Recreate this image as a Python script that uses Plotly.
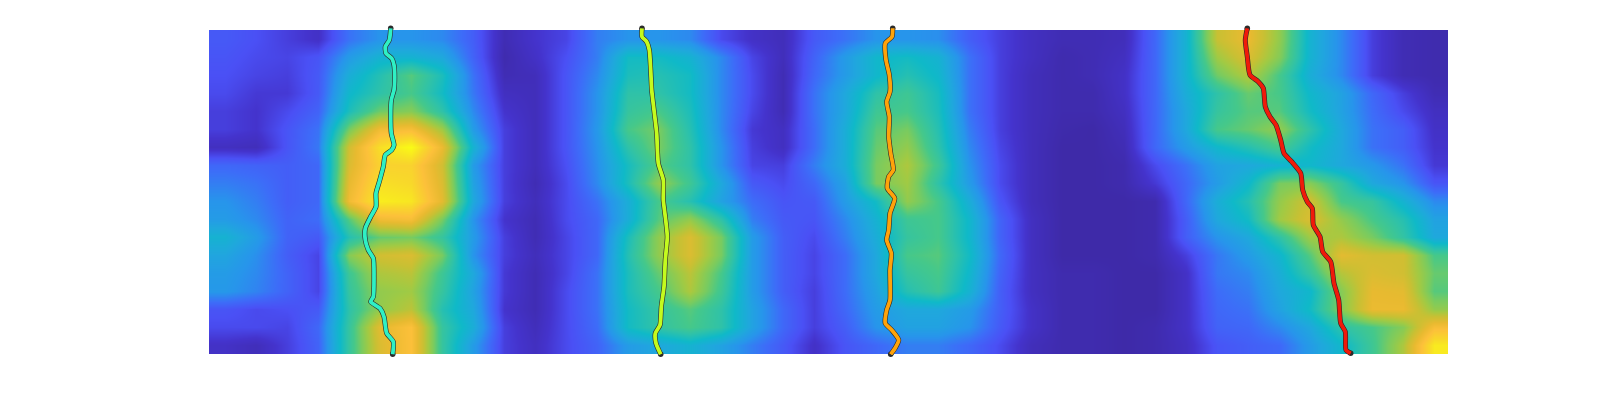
import plotly.graph_objects as go

# Heat values on a 0-10 scale, one list per row (top to bottom), four panels of ten columns
a = [
[1.3,1.1,0.8,0.5,1.8,2.4,2.4,2.2,1.4,0.2],
[1.2,1.0,0.9,1.2,2.6,3.4,3.4,3.0,1.5,0.1],
[1.1,0.9,0.8,1.3,3.2,4.2,5.2,4.0,1.8,0.2],
[1.0,0.7,0.7,1.3,3.6,4.4,5.0,3.8,1.9,0.4],
[0.8,0.6,1.0,1.5,4.0,5.5,5.8,4.4,2.2,0.6],
[0.8,0.6,1.2,1.8,5.6,7.8,8.0,6.2,2.6,0.8],
[0.4,0.3,1.2,1.9,7.0,9.2,10.0,7.6,3.4,0.8],
[1.6,1.5,1.4,1.6,7.2,8.8,8.8,7.0,2.6,0.8],
[2.0,1.8,1.4,1.6,7.5,9.2,9.0,7.2,2.8,0.8],
[2.4,2.0,1.4,1.6,7.8,9.6,9.4,7.4,3.0,0.8],
[2.6,2.2,1.5,1.7,5.2,7.8,8.0,5.6,2.4,0.6],
[3.4,2.6,1.5,1.3,4.2,5.4,5.6,4.6,2.6,0.8],
[2.9,2.3,1.4,0.9,5.8,7.0,7.2,5.6,2.4,0.8],
[2.6,2.2,1.5,0.9,4.8,6.4,6.6,4.8,3.0,0.7],
[2.5,2.1,1.5,0.9,4.6,6.0,6.2,4.6,2.8,0.7],
[1.2,1.0,1.1,1.3,4.4,6.0,6.6,4.2,3.0,0.6],
[1.0,1.0,0.9,1.6,4.6,7.4,8.2,4.6,3.2,0.8],
[0.5,0.3,0.8,1.5,4.6,7.2,8.2,4.6,2.6,0.8],
]
b = [
[0.6,0.9,2.0,2.4,2.4,2.2,1.0,0.5,0.3,1.3],
[0.5,1.1,2.0,3.8,3.8,3.4,2.2,0.9,0.3,1.5],
[0.3,1.2,2.2,4.0,4.2,3.8,2.2,1.0,0.2,1.6],
[0.3,1.2,2.4,4.4,4.4,3.8,2.2,1.0,0.2,1.8],
[0.3,1.2,2.4,4.6,5.0,4.0,2.2,0.9,0.2,1.8],
[0.3,1.2,2.5,5.0,5.6,4.2,2.2,0.7,0.4,1.7],
[0.3,1.2,2.4,4.4,5.6,4.4,2.4,0.8,0.4,1.7],
[0.3,1.1,2.3,3.9,5.2,4.4,2.4,0.9,0.8,2.0],
[0.2,1.0,2.2,4.0,6.0,4.8,3.0,1.3,1.0,1.6],
[0.3,1.0,1.8,3.2,5.0,4.2,2.8,1.7,1.2,1.3],
[0.2,1.0,1.6,3.2,5.2,6.0,4.4,2.0,1.3,1.2],
[0.2,0.9,1.6,4.0,6.0,7.2,5.6,2.6,1.4,1.0],
[0.3,0.9,1.6,4.2,6.0,7.2,5.6,2.6,1.4,0.9],
[0.2,0.9,1.8,4.0,5.4,6.6,5.0,2.6,1.4,0.9],
[0.2,1.0,1.8,4.0,5.0,6.4,4.8,2.6,1.4,0.8],
[0.2,1.0,1.8,3.8,4.6,5.2,4.4,2.8,1.6,0.8],
[0.3,1.0,1.7,3.8,4.5,5.0,4.4,2.8,1.6,0.8],
[0.4,1.0,1.5,2.6,3.0,3.4,2.8,2.0,1.3,0.5],
]
c = [
[1.8,2.4,2.4,2.3,1.4,0.8,0.4,0.2,0.2,0.3],
[2.6,3.6,3.8,3.4,1.8,0.8,0.4,0.1,0.2,0.4],
[2.6,3.6,4.2,3.6,1.8,0.8,0.3,0.1,0.2,0.5],
[3.0,4.4,4.8,3.9,1.8,0.8,0.3,0.1,0.1,0.5],
[3.0,4.8,5.0,4.0,1.8,0.8,0.3,0.1,0.1,0.4],
[3.2,5.2,5.6,4.2,2.0,0.8,0.3,0.05,0.0,0.3],
[3.2,5.4,6.0,4.4,2.2,0.9,0.3,0.0,0.0,0.2],
[3.2,5.6,6.4,4.8,2.4,1.0,0.3,0.0,0.0,0.1],
[2.8,5.6,6.2,4.4,2.6,1.0,0.3,0.0,0.0,0.1],
[2.6,3.8,6.0,5.0,3.2,1.2,0.3,0.0,0.0,0.0],
[2.2,3.4,4.8,5.0,3.6,1.5,0.4,0.0,0.0,0.0],
[2.0,3.2,4.6,5.0,3.6,1.5,0.4,0.0,0.0,0.0],
[1.7,3.0,5.0,5.2,3.8,1.6,0.4,0.0,0.0,0.0],
[1.7,3.0,4.6,5.0,3.6,1.5,0.4,0.1,0.1,0.0],
[1.7,2.8,4.2,4.8,3.4,1.4,0.4,0.1,0.1,0.0],
[1.6,2.6,3.0,3.0,2.6,1.4,0.5,0.1,0.1,0.0],
[1.4,2.4,2.8,2.8,2.4,1.3,0.5,0.1,0.1,0.0],
[1.2,1.6,2.0,2.0,1.6,1.0,0.3,0.1,0.1,0.0],
]
d = [
[1.6,3.4,6.8,7.6,6.0,3.4,2.2,0.8,0.2,0.1],
[1.6,3.4,6.2,7.2,5.8,3.4,2.2,0.8,0.2,0.1],
[1.6,3.4,5.5,6.5,5.0,3.2,2.2,0.8,0.2,0.1],
[1.6,3.2,4.4,5.4,5.0,3.6,2.8,1.6,0.8,0.2],
[1.6,3.0,4.6,5.2,5.2,3.8,2.8,1.7,1.0,0.4],
[1.6,3.0,5.0,5.4,6.0,4.4,3.0,1.8,1.4,0.5],
[1.6,2.6,3.6,4.2,5.0,3.8,3.0,1.8,1.4,0.6],
[1.0,1.8,2.8,3.0,3.4,3.6,3.0,2.5,1.8,0.7],
[0.7,1.6,2.6,3.6,5.6,5.8,4.6,3.0,2.4,1.2],
[0.1,1.6,3.2,4.2,6.0,7.0,5.0,4.6,3.4,2.2],
[0.1,1.4,3.0,3.8,6.2,7.2,6.0,5.0,4.2,2.8],
[0.1,1.4,2.4,3.0,4.4,6.2,6.4,5.6,4.5,3.0],
[0.1,0.8,1.9,2.6,3.5,5.2,7.4,7.0,7.0,5.0],
[0.0,0.5,1.9,2.2,3.2,4.6,6.5,7.2,7.0,5.4],
[0.0,0.5,1.7,2.0,3.0,3.6,5.8,7.5,7.4,5.2],
[0.0,0.5,1.6,1.8,2.8,3.8,5.8,7.6,7.6,6.0],
[0.1,0.5,1.5,1.6,2.2,3.0,4.4,5.0,5.8,8.0],
[0.1,0.4,1.2,1.4,1.6,2.6,3.6,4.8,6.4,9.5],
]
heat_rows = [ra + rb + rc + rd for ra, rb, rc, rd in zip(a, b, c, d)]
col_pos = [15.5 + 31 * i for i in range(40)]
row_pos = [9 + 18 * i for i in range(18)]

t1_y = [-1.7,10,16.7,23.3,28.3,35,46.7,60,70,86.7,103.3,115,120,125,136.7,151.7,163.3,176.7,186.7,198.3,210,220,228.3,246.7,266.7,271.7,278.3,286.7,303.3,311.7,324.3]
t1_x = [181.7,180.3,176.3,177,182.7,185,185.7,185,182.3,181.7,182.3,185,182.7,176.3,174.3,170.3,167,167,161.7,156.3,156.3,159.3,164.3,165,164.3,161.7,171,175,177.7,184.3,183.7]
t2_y = [-1.7,6.7,11.7,20,40,60,80,103.3,133.3,150,170,186.7,206.7,230,256.7,276.7,295,303.3,313.3,324.3]
t2_x = [433,433,437.7,440.3,441.7,442.7,445,447.7,449.3,454.3,454.3,456.3,458.3,456.3,455,452.3,451,446.3,447,451.7]
t3_y = [-1.7,6.7,13.3,30,45,61.7,71.7,86.7,106.7,123.3,140,146.7,158.3,168.3,183.3,200,210,223.3,240,270,280,293.3,300,310,318.3,324.3]
t3_x = [683.7,683,676.3,677,680.3,681,677.7,680.3,679.7,681.7,684.3,679.7,678.3,685.7,681,679.7,677.7,682.3,681,681,677.7,676.3,682.7,689.7,686,681.7]
t4_y = [-1.7,10,26.7,45,51.7,58.3,76.7,86.7,95,110,123.3,131.7,143.3,160,171.7,178.3,195,206.7,221.7,231.7,253.3,270,293.3,301.7,320,323.3]
t4_x = [1038.3,1036.3,1038.3,1041,1049.3,1054.3,1056.3,1061,1067,1071.7,1075,1082.7,1091.7,1093.7,1098.3,1103.3,1104.3,1111,1113.7,1121.7,1125,1129.7,1131.7,1136.3,1137,1141.7]
track_colors = ["#2ff0c4", "#c4fb1e", "#ffa30a", "#f01a0a"]

parula = [
    [0.0, "#3e2aa8"], [0.06, "#4433cc"], [0.11, "#4a50f5"], [0.17, "#3d6cf8"], [0.24, "#2795eb"],
    [0.30, "#1fa8dc"], [0.37, "#0fb9c8"], [0.44, "#2fc2a8"], [0.50, "#45c88a"], [0.56, "#78cb60"],
    [0.62, "#a0ca44"], [0.68, "#c8c033"], [0.75, "#e8ba30"], [0.82, "#fcc03a"], [0.90, "#f8d82a"],
    [1.0, "#f9fb15"],
]

fig = go.Figure()
fig.add_trace(go.Heatmap(x=col_pos, y=row_pos, z=heat_rows, colorscale=parula, zmin=0, zmax=10,
                         zsmooth="best", showscale=False, hoverinfo="skip"))
for xs, ys, col in zip([t1_x, t2_x, t3_x, t4_x], [t1_y, t2_y, t3_y, t4_y], track_colors):
    fig.add_trace(go.Scatter(x=xs, y=ys, mode="lines", cliponaxis=False, showlegend=False,
                             line=dict(color="#2a2a2a", width=5, shape="spline", smoothing=0.6)))
    fig.add_trace(go.Scatter(x=[xs[0], xs[-1]], y=[ys[0], ys[-1]], mode="markers", cliponaxis=False,
                             showlegend=False, marker=dict(color="#2a2a2a", size=5.5)))
    fig.add_trace(go.Scatter(x=xs, y=ys[:1] + ys[1:], mode="lines", cliponaxis=False, showlegend=False,
                             line=dict(color=col, width=3.8, shape="spline", smoothing=0.6)))

fig.update_layout(
    width=1600, height=400, margin=dict(l=0, r=0, t=0, b=0),
    paper_bgcolor="white", plot_bgcolor="white", showlegend=False,
    xaxis=dict(domain=[209 / 1600, 1448 / 1600], range=[0, 1239], visible=False),
    yaxis=dict(domain=[1 - 355 / 400, 1 - 25 / 400], range=[325, -5], visible=False),
)
fig.write_html("out.html", config={"displayModeBar": False},
               post_script="document.body.style.margin='0';")
